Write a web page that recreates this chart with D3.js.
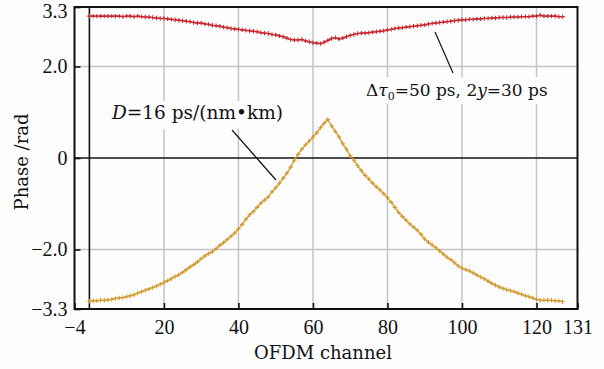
<!DOCTYPE html>
<html><head><meta charset="utf-8">
<script src="https://cdn.jsdelivr.net/npm/d3@7"></script>
<style>body{margin:0;background:#fdfdfd;} svg{display:block;} text{font-family:"DejaVu Serif",serif;} .tick text{font-family:"Liberation Serif","Times New Roman",serif;}</style>
</head><body>
<script>
const channels = d3.range(0, 128);
const goldSeries = [-3.13,-3.12,-3.12,-3.11,-3.11,-3.10,-3.09,-3.07,-3.06,-3.05,-3.03,-3.01,-2.99,-2.95,-2.92,-2.89,-2.86,-2.83,-2.80,-2.76,
-2.72,-2.68,-2.64,-2.59,-2.55,-2.50,-2.44,-2.38,-2.33,-2.27,-2.20,-2.14,-2.09,-2.05,-1.98,-1.91,-1.85,-1.78,-1.71,-1.64,
-1.55,-1.45,-1.34,-1.24,-1.17,-1.08,-0.99,-0.92,-0.85,-0.74,-0.65,-0.55,-0.44,-0.33,-0.20,-0.05,0.08,0.19,0.29,0.37,
0.46,0.55,0.66,0.76,0.84,0.70,0.58,0.46,0.31,0.19,0.05,-0.05,-0.17,-0.28,-0.38,-0.46,-0.55,-0.63,-0.70,-0.78,
-0.87,-0.97,-1.08,-1.19,-1.28,-1.36,-1.44,-1.51,-1.58,-1.67,-1.77,-1.84,-1.90,-1.96,-2.03,-2.10,-2.17,-2.22,-2.29,-2.36,
-2.41,-2.44,-2.47,-2.51,-2.56,-2.60,-2.64,-2.69,-2.74,-2.78,-2.82,-2.85,-2.88,-2.90,-2.92,-2.95,-2.98,-3.01,-3.03,-3.06,
-3.09,-3.11,-3.11,-3.11,-3.11,-3.12,-3.12,-3.14];
const redSeries = [3.10,3.10,3.10,3.10,3.10,3.10,3.10,3.10,3.10,3.09,3.10,3.10,3.09,3.10,3.09,3.08,3.08,3.07,3.06,3.05,
3.05,3.04,3.03,3.02,3.01,3.00,2.99,2.98,2.96,2.95,2.95,2.93,2.92,2.90,2.89,2.88,2.86,2.85,2.83,2.82,
2.81,2.80,2.79,2.78,2.77,2.76,2.74,2.73,2.72,2.70,2.69,2.67,2.65,2.62,2.59,2.58,2.58,2.59,2.56,2.54,
2.52,2.51,2.50,2.53,2.57,2.61,2.63,2.60,2.62,2.65,2.68,2.70,2.72,2.73,2.73,2.74,2.75,2.76,2.77,2.78,
2.80,2.81,2.83,2.84,2.85,2.86,2.87,2.88,2.89,2.90,2.91,2.93,2.94,2.95,2.96,2.97,2.98,2.99,3.00,3.01,
3.02,3.02,3.03,3.03,3.04,3.04,3.05,3.05,3.06,3.06,3.07,3.07,3.07,3.08,3.08,3.08,3.09,3.09,3.09,3.10,
3.10,3.12,3.10,3.10,3.10,3.10,3.09,3.09];
const xTicks = [-4, 20, 40, 60, 80, 100, 120, 131];
const yTicks = [3.3, 2.0, 0, -2.0, -3.3];
const xGrid = [20, 40, 60, 80, 100, 120];
const yGrid = [2.0, -2.0];

const W = 604, H = 369;
const svg = d3.select("body").append("svg").attr("width", W).attr("height", H);
const x = d3.scaleLinear().domain([-4, 131]).range([74.5, 577.5]);
const y = d3.scaleLinear().domain([-3.3, 3.3]).range([309, 7]);

svg.append("rect").attr("width", W).attr("height", H).attr("fill", "#fdfdfd");

// grid
svg.selectAll(".gx").data(xGrid).enter().append("line")
  .attr("x1", d => x(d)).attr("x2", d => x(d)).attr("y1", y(3.3)).attr("y2", y(-3.3))
  .attr("stroke", "#c4c4c4").attr("stroke-width", 1.5);
svg.selectAll(".gy").data(yGrid).enter().append("line")
  .attr("x1", x(-4)).attr("x2", x(131)).attr("y1", d => y(d)).attr("y2", d => y(d))
  .attr("stroke", "#c4c4c4").attr("stroke-width", 1.5);
// zero lines
svg.append("line").attr("x1", x(0)).attr("x2", x(0)).attr("y1", y(3.3)).attr("y2", y(-3.3))
  .attr("stroke", "#111").attr("stroke-width", 1.6);
svg.append("line").attr("x1", x(-4)).attr("x2", x(131)).attr("y1", y(0)).attr("y2", y(0))
  .attr("stroke", "#111").attr("stroke-width", 1.6);

// series
function drawSeries(vals, color) {
  const pts = channels.map((c, i) => [c, vals[i]]);
  svg.append("path").datum(pts)
    .attr("d", d3.line().x(d => x(d[0])).y(d => y(d[1])))
    .attr("fill", "none").attr("stroke", color).attr("stroke-width", 1.3);
  svg.append("g").selectAll("path").data(pts).enter().append("path")
    .attr("d", d => `M${x(d[0]) - 2.2},${y(d[1])}h4.4M${x(d[0])},${y(d[1]) - 2.2}v4.4`)
    .attr("stroke", color).attr("stroke-width", 1.1);
}
drawSeries(redSeries, "#c8262c");
drawSeries(goldSeries, "#d19a2e");

// annotations leader lines
svg.append("line").attr("x1", 232).attr("y1", 130).attr("x2", 276).attr("y2", 180)
  .attr("stroke", "#111").attr("stroke-width", 1.2);
svg.append("line").attr("x1", 435).attr("y1", 32).attr("x2", 453).attr("y2", 73)
  .attr("stroke", "#111").attr("stroke-width", 1.2);

// label backgrounds
svg.append("rect").attr("x", 108).attr("y", 101).attr("width", 180).attr("height", 28).attr("fill", "#fdfdfd");
svg.append("rect").attr("x", 362).attr("y", 77).attr("width", 187).attr("height", 27).attr("fill", "#fdfdfd");

const t1 = svg.append("text").attr("x", 112).attr("y", 119).attr("font-size", 18.5).attr("fill", "#111");
t1.append("tspan").attr("font-style", "italic").text("D");
t1.append("tspan").text("=16 ps/(nm\u2022km)");

const t2 = svg.append("text").attr("x", 366).attr("y", 96).attr("font-size", 17).attr("fill", "#111");
t2.append("tspan").text("\u0394");
t2.append("tspan").attr("font-style", "italic").text("\u03C4");
t2.append("tspan").attr("font-size", 11).attr("dy", 4).text("0");
t2.append("tspan").attr("dy", -4).text("=50 ps, 2");
t2.append("tspan").attr("font-style", "italic").text("y");
t2.append("tspan").text("=30 ps");

// frame
svg.append("rect").attr("x", x(-4)).attr("y", y(3.3)).attr("width", x(131) - x(-4)).attr("height", y(-3.3) - y(3.3))
  .attr("fill", "none").attr("stroke", "#111").attr("stroke-width", 2);

// axes (inward ticks)
const xAxis = svg.append("g").attr("transform", `translate(0,${y(-3.3)})`)
  .call(d3.axisBottom(x).tickValues(xTicks).tickSize(-6).tickPadding(11)
    .tickFormat(d => d < 0 ? "\u2212" + Math.abs(d) : d));
xAxis.select(".domain").remove();
xAxis.attr("font-family", null);
xAxis.selectAll("line").attr("stroke", "#111").attr("stroke-width", 1.6);
xAxis.selectAll("text").attr("font-size", 20).attr("fill", "#111");

const yAxis = svg.append("g").attr("transform", `translate(${x(-4)},0)`)
  .call(d3.axisLeft(y).tickValues(yTicks).tickSize(-6).tickPadding(7)
    .tickFormat(d => d === 0 ? "0" : (d < 0 ? "\u2212" : "") + Math.abs(d).toFixed(1)));
yAxis.select(".domain").remove();
yAxis.attr("font-family", null);
yAxis.selectAll("line").attr("stroke", "#111").attr("stroke-width", 1.6);
yAxis.selectAll("text").attr("font-size", 20).attr("fill", "#111")
  .attr("dy", d => d === 3.3 ? "0.5em" : "0.32em");

// axis titles
svg.append("text").attr("x", 323).attr("y", 359).attr("text-anchor", "middle")
  .attr("font-size", 18).attr("fill", "#111").text("OFDM channel");
svg.append("text").attr("transform", "translate(28,162) rotate(-90)").attr("text-anchor", "middle")
  .attr("font-size", 18).attr("fill", "#111").text("Phase /rad");
</script>
</body></html>
